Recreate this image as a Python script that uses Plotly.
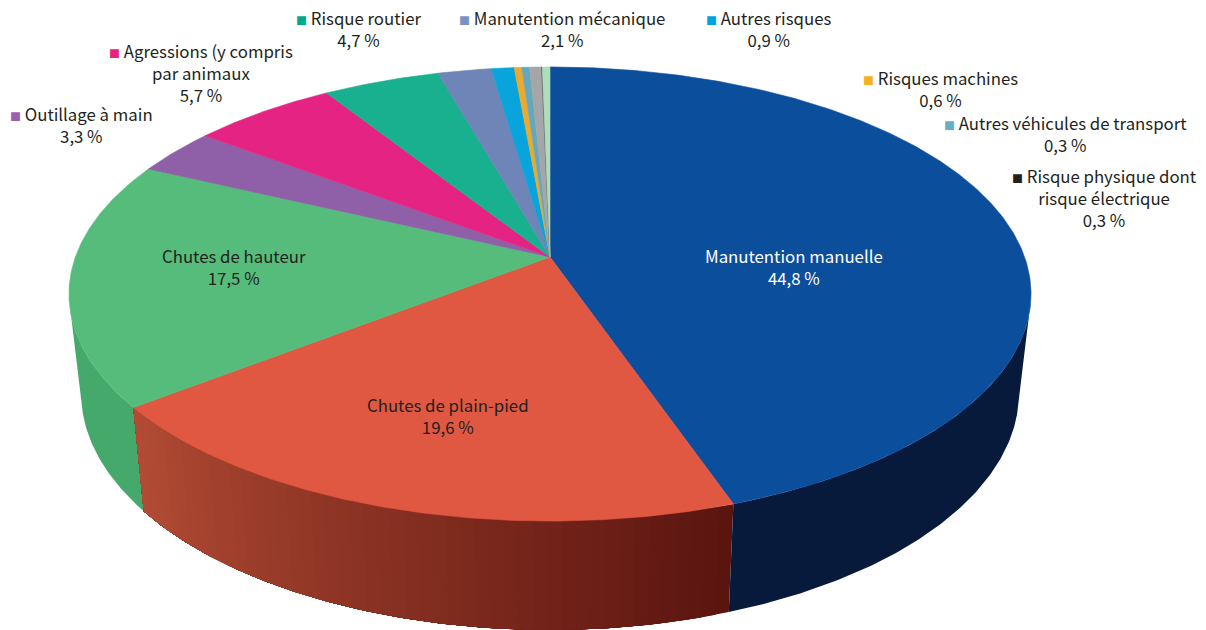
import math
import plotly.graph_objects as go

# Data (share of the pie, clockwise from 12 o'clock)
slice_names = ["Manutention manuelle", "Chutes de plain-pied", "Chutes de hauteur", "Outillage à main",
               "Agressions", "Risque routier", "Manutention mécanique", "Autres risques",
               "Risques machines", "Autres véhicules de transport", "Autres", "Risque physique", "Non classé"]
slice_values = [44.7, 19.8, 17.5, 3.3, 5.7, 4.6, 2.1, 0.9, 0.3, 0.3, 0.47, 0.03, 0.3]
slice_colors = ["#0B4E9C", "#E05841", "#55BC7C", "#8F5FA8", "#E52383", "#18B08F", "#6F85B8", "#0AA4DC",
                "#EBAA2E", "#63A8BF", "#A4A6A8", "#58595B", "#AEDDBB"]
wall_left = {0: "#071A3B", 1: "#B34C35", 2: "#45A96C"}
wall_right = {0: "#071A3B", 1: "#5A140F", 2: "#45A96C"}

# Text blocks: (swatch colour or None, lines, x centre, y centre, colour)
DARK = "#231F20"
labels = [
    (None, ["Manutention manuelle", "44,8 %"], 794, 267, "#FFFFFF"),
    (None, ["Chutes de plain-pied", "19,6 %"], 448, 416, DARK),
    (None, ["Chutes de hauteur", "17,5 %"], 234, 267, DARK),
    ("#9B5FB0", ["Outillage à main", "3,3 %"], 81, 125, DARK),
    ("#E6237F", ["Agressions (y compris", "par animaux", "5,7 %"], 201, 73, DARK),
    ("#00A88E", ["Risque routier", "4,7 %"], 358, 28.5, DARK),
    ("#7A92C4", ["Manutention mécanique", "2,1 %"], 562, 28.5, DARK),
    ("#00A3DF", ["Autres risques", "0,9 %"], 768.5, 28.5, DARK),
    ("#F4B223", ["Risques machines", "0,6 %"], 940, 89, DARK),
    ("#62AFC6", ["Autres véhicules de transport", "0,3 %"], 1065, 134, DARK),
    ("#231F20", ["Risque physique dont", "risque électrique", "0,3 %"], 1104, 198, DARK),
]

# Perspective model of the pie disc
CX = 550
K = 0.163
TOP = dict(cy=257, ax=474.6, by=221)
BOT = dict(cy=354, ax=474.6 * 0.975, by=231)
EDGE_DEG = 14.5  # how far past 90 degrees the visible wall starts


def project(deg, face):
    a = math.radians(deg)
    u, v = math.sin(a), -math.cos(a)
    w = 1 - K * v
    return CX + face["ax"] * u / w, face["cy"] + face["by"] * v / w


def arc(d0, d1, face):
    n = max(2, int(abs(d1 - d0) * 2) + 1)
    pts = [project(d0 + (d1 - d0) * i / (n - 1), face) for i in range(n)]
    return [p[0] for p in pts], [p[1] for p in pts]


def blend(c0, c1, f):
    a = [int(c0[i:i + 2], 16) for i in (1, 3, 5)]
    b = [int(c1[i:i + 2], 16) for i in (1, 3, 5)]
    return "rgb(%d,%d,%d)" % tuple(round(x + (y - x) * f) for x, y in zip(a, b))


fig = go.Figure()


def poly(xs, ys, color, width=0.6):
    fig.add_trace(go.Scatter(x=xs, y=ys, mode="lines", fill="toself", fillcolor=color,
                             line=dict(color=color, width=width), hoverinfo="skip", showlegend=False))


total = sum(slice_values)
edges = [0.0]
for val in slice_values:
    edges.append(edges[-1] + val / total * 360)

# Side wall: each strip runs on to the far end of its slice, the next one paints over it
vis0, vis1 = 90 + EDGE_DEG, 270 - EDGE_DEG
for i in range(len(slice_values) - 1, -1, -1):
    d0, d1 = max(edges[i], vis0), min(edges[i + 1], vis1)
    if d1 <= d0:
        continue
    strips = 1 if wall_left[i] == wall_right[i] else 48
    for s in range(strips):
        a0 = d0 + (d1 - d0) * s / strips
        tx, ty = arc(a0, d1, TOP)
        bx, by = arc(a0, d1, BOT)
        poly(tx + bx[::-1], ty + by[::-1], blend(wall_right[i], wall_left[i], (s + 0.5) / strips), width=0)

# Top face
for i, color in enumerate(slice_colors):
    ax_, ay_ = arc(edges[i], edges[i + 1], TOP)
    poly([CX] + ax_ + [CX], [TOP["cy"]] + ay_ + [TOP["cy"]], color)

for swatch, lines, x, y, color in labels:
    text = "<br>".join(lines)
    if swatch:
        text = f'<span style="color:{swatch};font-size:11px">■</span> ' + text
    fig.add_annotation(x=x, y=y, text=text, showarrow=False, xanchor="center", yanchor="middle", align="center",
                       font=dict(family="Noto Sans CJK SC", size=16.8, color=color))

fig.update_layout(width=1206, height=630, margin=dict(l=0, r=0, t=0, b=0),
                  paper_bgcolor="white", plot_bgcolor="white",
                  xaxis=dict(range=[0, 1206], visible=False, fixedrange=True),
                  yaxis=dict(range=[630, 0], visible=False, fixedrange=True))
fig.write_html("out.html", config=dict(displayModeBar=False),
               post_script="document.body.style.margin='0';document.body.style.overflow='hidden';")
